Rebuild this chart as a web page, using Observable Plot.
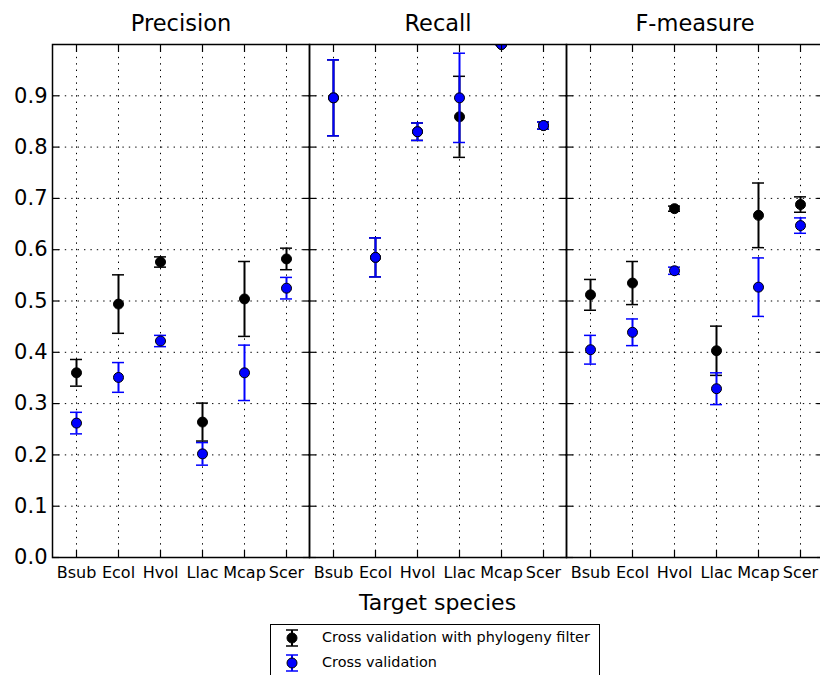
<!DOCTYPE html>
<html><head><meta charset="utf-8">
<script src="https://cdn.jsdelivr.net/npm/d3@7"></script>
<script src="https://cdn.jsdelivr.net/npm/@observablehq/plot@0.6"></script>
<style>
html,body{margin:0;padding:0;background:#fff;}
#wrap{position:relative;width:820px;height:675px;overflow:hidden;font-family:"DejaVu Sans",sans-serif;color:#000;}
#chart{position:absolute;left:0;top:0;}
#xlabel{position:absolute;left:52px;width:771px;top:590px;text-align:center;font-size:22px;}
#legend{position:absolute;left:270px;top:624px;width:330px;height:62px;border:1.5px solid #000;box-sizing:border-box;background:#fff;}
.lrow{position:absolute;left:0;height:24px;width:100%;font-size:14.4px;}
.lrow svg{position:absolute;left:10px;top:0;}
.lrow span{position:absolute;left:51px;top:3px;white-space:nowrap;}
</style>
</head><body>
<div id="wrap">
  <div id="chart"></div>
  <div id="xlabel">Target species</div>
  <div id="legend"></div>
</div>
<script>
const metrics = ["Precision", "Recall", "F-measure"];
const species = ["Bsub", "Ecol", "Hvol", "Llac", "Mcap", "Scer"];
const seriesNames = ["Cross validation with phylogeny filter", "Cross validation"];
const seriesColors = ["#000000", "#0000ff"];
const yTicks = [0.0, 0.1, 0.2, 0.3, 0.4, 0.5, 0.6, 0.7, 0.8, 0.9];

const precisionFilter    = [0.360, 0.494, 0.576, 0.264, 0.504, 0.582];
const precisionFilterErr = [0.026, 0.057, 0.010, 0.037, 0.073, 0.021];
const precisionCV        = [0.262, 0.351, 0.422, 0.202, 0.360, 0.525];
const precisionCVErr     = [0.021, 0.029, 0.011, 0.022, 0.054, 0.021];
const recallFilter       = [0.896, 0.585, 0.830, 0.859, 1.000, 0.842];
const recallFilterErr    = [0.074, 0.038, 0.017, 0.079, 0.000, 0.007];
const recallCV           = [0.896, 0.585, 0.830, 0.896, 1.000, 0.842];
const recallCVErr        = [0.074, 0.038, 0.017, 0.087, 0.000, 0.007];
const fFilter            = [0.512, 0.535, 0.680, 0.403, 0.667, 0.688];
const fFilterErr         = [0.030, 0.042, 0.005, 0.048, 0.063, 0.015];
const fCV                = [0.405, 0.439, 0.559, 0.329, 0.527, 0.647];
const fCVErr             = [0.028, 0.026, 0.007, 0.031, 0.057, 0.015];

const table = {
  "Precision": [[precisionFilter, precisionFilterErr], [precisionCV, precisionCVErr]],
  "Recall": [[recallFilter, recallFilterErr], [recallCV, recallCVErr]],
  "F-measure": [[fFilter, fFilterErr], [fCV, fCVErr]]
};

function rowsFor(si) {
  const rows = [];
  metrics.forEach(m => {
    const [vals, errs] = table[m][si];
    species.forEach((s, i) => rows.push({metric: m, species: s, series: seriesNames[si], value: vals[i], err: errs[i]}));
  });
  return rows;
}

const dataMarks = [];
[0, 1].forEach(si => {
  const rows = rowsFor(si);
  dataMarks.push(
    Plot.ruleX(rows, {x: "species", fx: "metric", y1: d => d.value - d.err, y2: d => d.value + d.err, stroke: "series", strokeWidth: 2, clip: true}),
    Plot.tickY(rows, {x: "species", fx: "metric", y: d => d.value + d.err, stroke: "series", strokeWidth: 1.5, insetLeft: 15, insetRight: 15, clip: true}),
    Plot.tickY(rows, {x: "species", fx: "metric", y: d => d.value - d.err, stroke: "series", strokeWidth: 1.5, insetLeft: 15, insetRight: 15, clip: true}),
    Plot.dot(rows, {x: "species", fx: "metric", y: "value", fill: "series", stroke: "black", strokeWidth: 1, r: 5, clip: true})
  );
});

const grid = {stroke: "black", strokeOpacity: 1, strokeWidth: 1, strokeDasharray: "1.4,5"};

const chart = Plot.plot({
  width: 820, height: 590,
  marginLeft: 52, marginRight: -3, marginTop: 44, marginBottom: 33,
  style: {fontFamily: "DejaVu Sans", background: "white", color: "black", overflow: "visible"},
  fx: {domain: metrics, padding: 0, label: null},
  x: {type: "band", domain: species, padding: 0, label: null},
  y: {domain: [0, 1], label: null},
  color: {domain: seriesNames, range: seriesColors},
  marks: [
    Plot.gridY(yTicks.slice(1), {...grid, facetAnchor: null}),
    Plot.gridX({...grid, facetAnchor: null}),
    ...dataMarks,
    Plot.frame({stroke: "black", strokeWidth: 1.5}),
    Plot.axisY(yTicks, {anchor: "left", facetAnchor: null, tickSize: -7, strokeWidth: 1.2, fill: "none", label: null}),
    Plot.axisY(yTicks, {anchor: "right", facetAnchor: null, tickSize: -7, strokeWidth: 1.2, fill: "none", label: null}),
    Plot.axisX({anchor: "bottom", facetAnchor: null, tickSize: -7, strokeWidth: 1.2, fill: "none", label: null}),
    Plot.axisX({anchor: "top", facetAnchor: null, tickSize: -7, strokeWidth: 1.2, fill: "none", label: null}),
    Plot.axisY(yTicks, {anchor: "left", tickSize: 0, tickPadding: 5, tickFormat: d3.format(".1f"), fontSize: 21, label: null}),
    Plot.axisX({anchor: "bottom", facetAnchor: null, tickSize: 0, tickPadding: 9, fontSize: 16, label: null}),
    Plot.axisFx({anchor: "top", tickSize: 0, tickPadding: 14, fontSize: 22.5, label: null})
  ]
});
document.getElementById("chart").appendChild(chart);

// legend
const legend = document.getElementById("legend");
seriesNames.forEach((name, i) => {
  const row = document.createElement("div");
  row.className = "lrow";
  row.style.top = (i === 0 ? 1 : 26) + "px";
  const c = seriesColors[i];
  row.innerHTML = `<svg width="22" height="24"><line x1="11" x2="11" y1="4" y2="20" stroke="${c}" stroke-width="2"/><line x1="5" x2="17" y1="4" y2="4" stroke="${c}" stroke-width="1.5"/><line x1="5" x2="17" y1="20" y2="20" stroke="${c}" stroke-width="1.5"/><circle cx="11" cy="12" r="5" fill="${c}" stroke="black"/></svg>`;
  const t = document.createElement("span");
  t.textContent = name;
  row.appendChild(t);
  legend.appendChild(row);
});
</script>
</body></html>
